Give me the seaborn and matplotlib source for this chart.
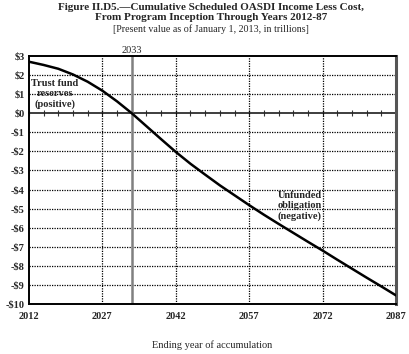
import matplotlib
matplotlib.use("Agg")
import matplotlib.pyplot as plt
import seaborn as sns
import pandas as pd
import numpy as np

# Cumulative income less cost, present value in trillions
years = [2012, 2015, 2018, 2021, 2024, 2027, 2030, 2033, 2036, 2039, 2042, 2045, 2048,
         2051, 2054, 2057, 2060, 2063, 2066, 2069, 2072, 2075, 2078, 2081, 2084, 2087]
values = [2.70, 2.53, 2.33, 2.03, 1.65, 1.18, 0.62, 0.00, -0.68, -1.36, -2.03, -2.65, -3.22,
          -3.78, -4.30, -4.82, -5.32, -5.80, -6.27, -6.74, -7.20, -7.68, -8.15, -8.62, -9.08, -9.55]

x_ticks = [2012, 2027, 2042, 2057, 2072, 2087]
y_ticks = list(range(3, -11, -1))
y_labels = [f"${v}" if v >= 0 else f"-${-v}" for v in y_ticks]
depletion_year = 2033

df = pd.DataFrame({"year": years, "value": values})

sns.set_theme(style="white")
plt.rcParams["font.family"] = ["Liberation Serif", "DejaVu Serif"]

fig = plt.figure(figsize=(4.10, 3.54), dpi=100)
ax = fig.add_axes([0.0707, 0.1412, 0.8953, 0.7006])

# grid
for v in y_ticks:
    if v not in (3, 0, -10):
        ax.axhline(v, color="black", lw=0.9, ls=(0, (1, 1)), zorder=1)
for yr in x_ticks[1:-1]:
    ax.axvline(yr, color="black", lw=0.9, ls=(0, (1, 1)), zorder=1)
ax.axvline(depletion_year, color="#808080", lw=1.8, zorder=2)

sns.lineplot(data=df, x="year", y="value", color="black", lw=1.8, ax=ax, zorder=4)

ax.set_xlim(2012, 2087)
ax.set_ylim(-10, 3)
ax.set_xticks(x_ticks)
ax.set_xticklabels([str(t) for t in x_ticks], fontweight="bold", fontsize=7.5)
ax.set_yticks(y_ticks)
ax.set_yticklabels(y_labels, fontweight="bold", fontsize=7.5)
ax.set_yticks(np.arange(-9.5, 3, 1.0), minor=True)
ax.tick_params(axis="x", which="both", length=0, pad=6)
ax.tick_params(axis="y", which="major", length=0, pad=3)
ax.tick_params(axis="y", which="minor", direction="in", length=2.5, width=0.8, color="#777777")
ax.set_xlabel("Ending year of accumulation", fontsize=7.5, labelpad=14)
ax.set_ylabel("")

for name, sp in ax.spines.items():
    sp.set_visible(True)
    sp.set_color("black")
    sp.set_linewidth(1.4)
ax.spines["right"].set_color("#555555")
ax.spines["right"].set_linewidth(2.2)

# zero line with tick marks every 3 years
zero = ax.secondary_xaxis(10 / 13)
zero.spines["bottom"].set_linewidth(1.2)
zero.spines["bottom"].set_color("black")
zero.set_xticks(years)
zero.set_xticklabels([])
zero.tick_params(direction="inout", length=4, width=0.8, color="#333333")

# top year marker
top = ax.secondary_xaxis("top")
top.set_xticks([depletion_year])
top.set_xticklabels([str(depletion_year)], fontsize=7.5)
top.tick_params(length=0, pad=1)
top.spines["top"].set_visible(False)

ax.text(2017.3, 1.0, "Trust fund\nreserves\n(positive)", ha="center", va="center",
        fontsize=7.5, fontweight="bold", linespacing=1.15, zorder=5)
ax.text(2067.3, -4.87, "Unfunded\nobligation\n(negative)", ha="center", va="center",
        fontsize=7.5, fontweight="bold", linespacing=1.15, zorder=5)

fig.text(0.515, 1 - 7 / 354, "Figure II.D5.\u2014Cumulative Scheduled OASDI Income Less Cost,",
         ha="center", va="center", fontsize=8.0, fontweight="bold")
fig.text(0.515, 1 - 18 / 354, "From Program Inception Through Years 2012-87",
         ha="center", va="center", fontsize=8.0, fontweight="bold")
fig.text(0.515, 1 - 29 / 354, "[Present value as of January 1, 2013, in trillions]",
         ha="center", va="center", fontsize=7.2)

fig.savefig("out.png", dpi=100)
